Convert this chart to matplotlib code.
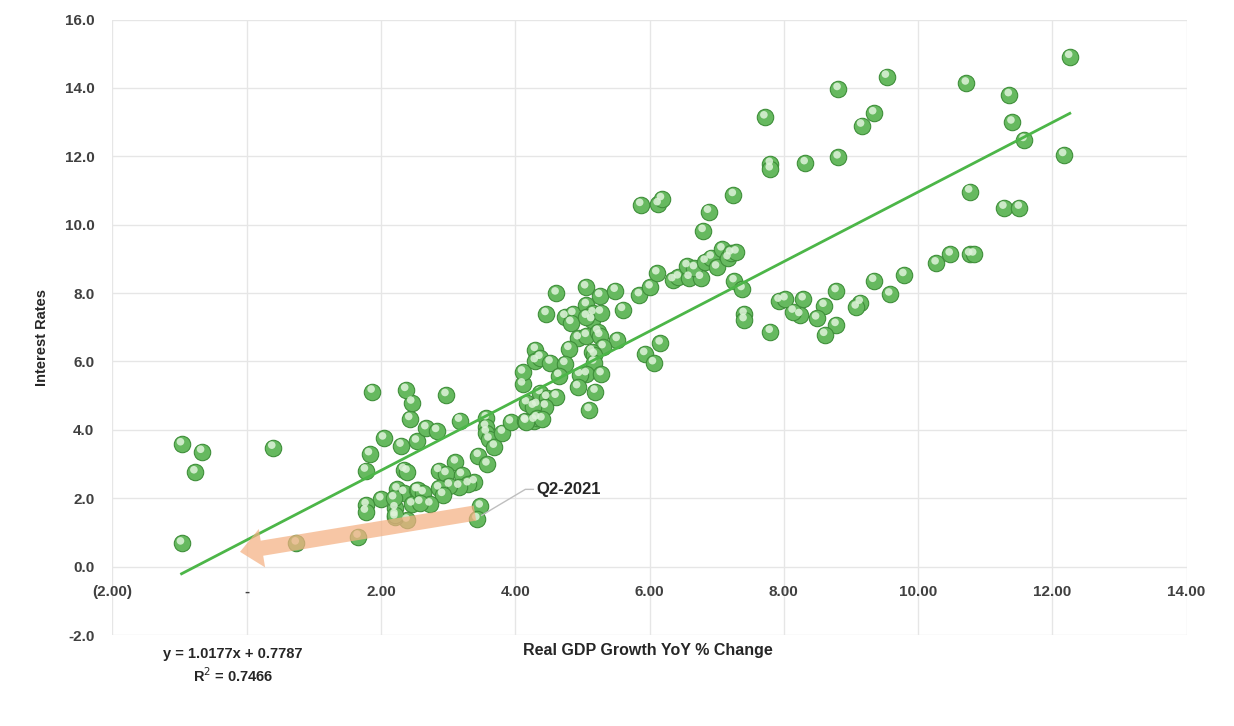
import numpy as np
import matplotlib.pyplot as plt
from matplotlib import transforms
from matplotlib.patches import FancyArrowPatch
import matplotlib.ticker as mticker

plt.rcParams['font.family'] = ['Liberation Sans', 'DejaVu Sans']

# Real GDP growth YoY % change (x) vs interest rates (y)
gdp = [-0.97, -0.67, -0.77, 0.39, -0.97, 0.74, 1.66, 2.39, 2.21, 2.04,
       1.83, 1.77, 2.30, 2.53, 2.43, 2.46, 2.34, 2.39, 2.24, 2.34,
       2.53, 2.00, 1.78, 1.77, 2.21, 2.46, 2.19, 1.87, 2.37, 2.97,
       2.67, 2.83, 3.17, 2.86, 3.11, 2.97, 3.20, 3.45, 3.58, 3.39,
       3.30, 3.16, 3.02, 2.86, 2.92, 2.55, 2.63, 2.73, 2.58, 2.21,
       3.48, 3.43, 3.57, 3.56, 3.57, 3.61, 3.69, 3.81, 3.93, 4.15,
       4.28, 4.17, 4.32, 4.11, 4.11, 4.30, 4.30, 4.37, 4.61, 5.05,
       5.26, 5.49, 5.85, 6.01, 6.11, 4.46, 4.74, 4.86, 4.83, 5.06,
       5.16, 5.14, 5.27, 5.06, 5.60, 4.94, 5.06, 5.23, 5.26, 5.52,
       5.31, 5.14, 5.18, 5.17, 4.80, 4.37, 4.52, 4.74, 4.65, 5.06,
       4.96, 5.28, 4.93, 5.19, 5.10, 4.47, 4.61, 4.45, 4.27, 4.32,
       4.40, 4.16, 5.93, 6.06, 6.16, 5.87, 6.13, 6.18, 7.25, 6.88,
       6.80, 6.35, 6.43, 6.59, 6.76, 6.56, 6.67, 6.83, 6.92, 7.00,
       7.08, 7.17, 7.21, 7.29, 7.26, 7.38, 7.41, 7.41, 7.80, 7.93,
       9.53, 8.81, 7.72, 9.34, 9.16, 7.80, 7.80, 8.32, 8.81, 10.27,
       10.48, 10.77, 10.83, 9.79, 9.34, 9.58, 9.14, 9.08, 8.78, 8.60,
       8.78, 8.61, 8.49, 8.29, 8.24, 8.14, 8.02, 12.26, 10.72, 11.36,
       11.40, 11.58, 12.17, 10.77, 11.28, 11.51]
rates = [3.58, 3.36, 2.76, 3.48, 0.68, 0.68, 0.88, 1.35, 1.44, 3.75,
         3.29, 2.81, 3.54, 3.66, 4.32, 4.80, 2.83, 2.78, 2.26, 2.16,
         2.24, 1.97, 1.80, 1.61, 1.71, 1.82, 2.00, 5.12, 5.17, 5.02,
         4.05, 3.97, 4.27, 2.80, 3.05, 2.71, 2.68, 3.24, 2.99, 2.47,
         2.41, 2.34, 2.37, 2.29, 2.10, 2.24, 2.15, 1.82, 1.87, 1.51,
         1.76, 1.39, 4.34, 4.09, 3.92, 3.72, 3.51, 3.92, 4.22, 4.27,
         4.27, 4.78, 4.73, 5.33, 5.68, 6.34, 6.01, 5.08, 7.99, 8.17,
         7.92, 8.07, 7.94, 8.17, 8.58, 7.39, 7.31, 7.39, 7.13, 7.65,
         7.41, 7.21, 7.43, 7.31, 7.51, 6.68, 6.75, 6.87, 6.75, 6.63,
         6.42, 6.29, 6.19, 5.97, 6.37, 6.11, 5.97, 5.93, 5.58, 5.63,
         5.61, 5.63, 5.25, 5.12, 4.58, 4.94, 4.97, 4.68, 4.68, 4.34,
         4.31, 4.24, 6.22, 5.95, 6.53, 10.58, 10.60, 10.75, 10.87, 10.38,
         9.82, 8.38, 8.46, 8.45, 8.45, 8.79, 8.73, 8.92, 9.04, 8.75,
         9.28, 9.02, 9.16, 9.19, 8.35, 8.12, 7.39, 7.21, 6.87, 7.78,
         14.33, 13.97, 13.14, 13.26, 12.90, 11.78, 11.62, 11.80, 11.97, 8.87,
         9.13, 9.13, 9.13, 8.53, 8.36, 7.96, 7.72, 7.58, 8.06, 7.63,
         7.07, 6.78, 7.26, 7.82, 7.36, 7.46, 7.82, 14.91, 14.13, 13.79,
         12.99, 12.48, 12.04, 10.97, 10.50, 10.50]

# trendline from excel
slope, intercept = 1.0177, 0.7787
r2 = 0.7466

x_ticks = [-2, 0, 2, 4, 6, 8, 10, 12, 14]
x_labels = ['(2.00)', '-', '2.00', '4.00', '6.00', '8.00', '10.00', '12.00', '14.00']
y_ticks = [-2, 0, 2, 4, 6, 8, 10, 12, 14, 16]

# Q2-2021 arrow (tail -> tip) and callout
arrow_tail = (3.44, 1.58)
arrow_tip = (-0.14, 0.42)
q2_point = (3.50, 1.50)
q2_elbow = (4.15, 2.26)
q2_text = (4.32, 2.26)

fig = plt.figure(figsize=(12.34, 7.26), dpi=100)
ax = fig.add_axes([0.0911, 0.1253, 0.9616 - 0.0911, 0.9731 - 0.1253])

ax.set_xlim(-2, 14)
ax.set_ylim(-2, 16)

# gridlines make the border too
ax.set_xticks(x_ticks)
ax.set_yticks(y_ticks)
ax.grid(True, color='#e6e6e6', linewidth=1.0)
ax.set_axisbelow(True)
for s in ['top', 'right', 'left']:
    ax.spines[s].set_visible(False)
ax.spines['bottom'].set_position(('data', 0))
ax.spines['bottom'].set_visible(False)
ax.tick_params(length=0)
ax.set_xticklabels(x_labels)
ax.yaxis.set_major_formatter(mticker.FormatStrFormatter('%.1f'))
ax.tick_params(axis='x', pad=13, labelsize=11, labelcolor='#404040')
ax.tick_params(axis='y', pad=13, labelsize=11, labelcolor='#404040')
for lab in ax.get_xticklabels() + ax.get_yticklabels():
    lab.set_fontweight('bold')

# "sphere" markers: base + small highlight shifted up-left
ax.scatter(gdp, rates, s=140, color='#66b95f', edgecolors='#3f8f3a', linewidths=0.8, zorder=3)
hl = transforms.offset_copy(ax.transData, fig=fig, x=-0.8, y=1.8, units='points')
ax.scatter(gdp, rates, s=30, color='#dff3da', edgecolors='none', alpha=0.85, transform=hl, zorder=4)

# trendline
xs = np.array([min(gdp), max(gdp)])
ax.plot(xs, slope * xs + intercept, color='#4cb648', linewidth=2.0, zorder=5)

# orange arrow
arr = FancyArrowPatch(arrow_tail, arrow_tip, arrowstyle='simple,head_width=28,head_length=16,tail_width=11',
                      mutation_scale=1, color='#f4b183', alpha=0.72, linewidth=0, zorder=6)
ax.add_patch(arr)

# callout leader + label
ax.plot([q2_point[0], q2_elbow[0], q2_text[0] - 0.05], [q2_point[1], q2_elbow[1], q2_text[1]],
        color='#bfbfbf', linewidth=1.0, zorder=7)
ax.text(q2_text[0], q2_text[1], 'Q2-2021', fontsize=12, fontweight='bold', color='#262626',
        va='center', ha='left', zorder=7)

fig.text(0.034, 0.535, 'Interest Rates', rotation=90, ha='center', va='center',
         fontsize=10.5, fontweight='bold', color='#262626')
fig.text(0.525, 0.104, 'Real GDP Growth YoY % Change', ha='center', va='center',
         fontsize=11.5, fontweight='bold', color='#262626')
fig.text(0.189, 0.0992, 'y = 1.0177x + 0.7787', ha='center', va='center',
         fontsize=10.5, fontweight='bold', color='#262626')
fig.text(0.189, 0.0689, 'R$^2$ = %.4f' % r2, ha='center', va='center',
         fontsize=10.5, fontweight='bold', color='#262626')

fig.savefig('out.png', dpi=100)
